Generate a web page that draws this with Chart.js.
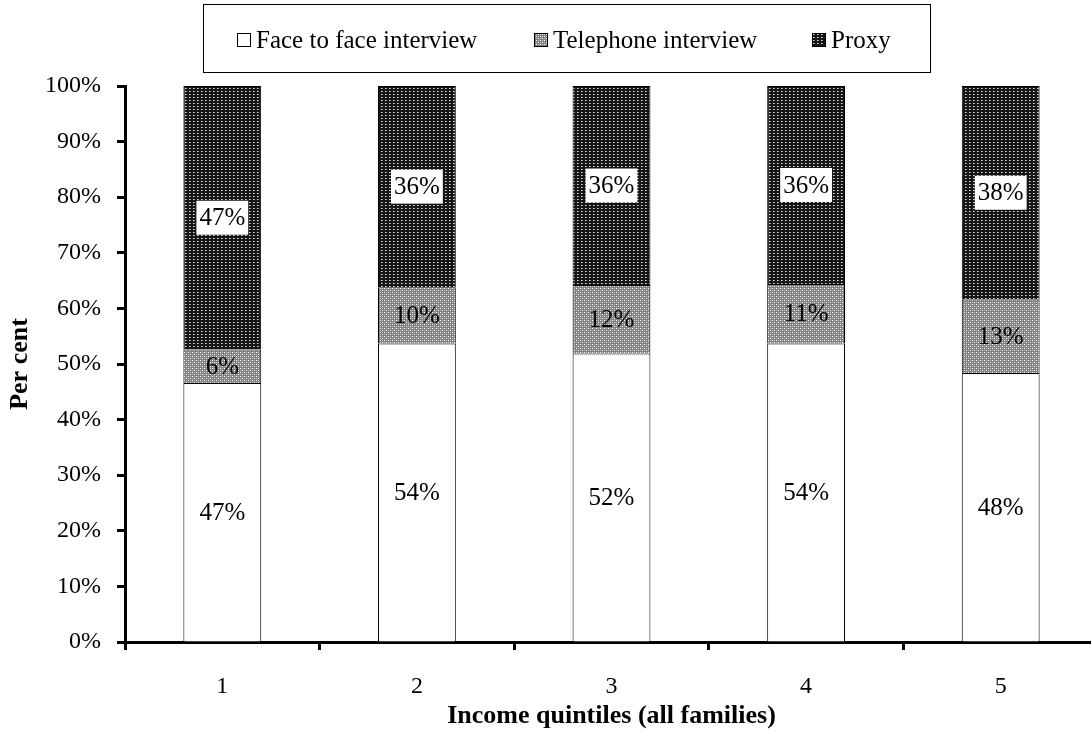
<!DOCTYPE html>
<html><head><meta charset="utf-8">
<script src="https://cdn.jsdelivr.net/npm/chart.js@4"></script>
<style>html,body{margin:0;padding:0;background:#fff;overflow:hidden}</style>
</head><body>
<canvas id="c" width="1100" height="734" style="display:block"></canvas>
<script>
const categories = ['1','2','3','4','5'];
const seriesNames = ['Face to face interview','Telephone interview','Proxy'];
const faceToFace = [46.6, 53.7, 51.9, 53.7, 48.4];
const telephone  = [6.0, 10.1, 12.3, 10.7, 13.2];
const proxy      = [47.4, 36.2, 35.8, 35.6, 38.4];
const xTitle = 'Income quintiles (all families)';
const yTitle = 'Per cent';

const FAMILY = "'Liberation Serif','Times New Roman',serif";
const TICK_FS = 24;
const LABEL_FS = 25;
const LEGEND_FS = 25;
const TITLE_FS = 26;

const canvas = document.getElementById('c');
const ctx = canvas.getContext('2d');

function makePattern(w, h, draw) {
  const c = document.createElement('canvas');
  c.width = w; c.height = h;
  const x = c.getContext('2d');
  draw(x);
  return ctx.createPattern(c, 'repeat');
}
const telPattern = makePattern(4, 4, x => {
  x.fillStyle = '#808080'; x.fillRect(0, 0, 4, 4);
  x.fillStyle = '#ffffff'; x.fillRect(0, 0, 1, 1); x.fillRect(2, 2, 1, 1);
  x.fillStyle = '#bcbcbc'; x.fillRect(2, 0, 1, 1); x.fillRect(0, 2, 1, 1);
});
const proxyPattern = makePattern(4, 3, x => {
  x.fillStyle = '#161616'; x.fillRect(0, 0, 4, 3);
  x.fillStyle = '#e4e4e4'; x.fillRect(1, 1, 1, 1);
  x.fillStyle = '#8a8a8a'; x.fillRect(2, 1, 1, 1);
});
const fills = ['#ffffff', telPattern, proxyPattern];

const labelPlugin = {
  id: 'segLabels',
  afterDatasetsDraw(chart) {
    const c = chart.ctx;
    c.save();
    c.font = LABEL_FS + 'px ' + FAMILY;
    c.textAlign = 'center';
    c.textBaseline = 'middle';
    chart.data.datasets.forEach((ds, di) => {
      const meta = chart.getDatasetMeta(di);
      meta.data.forEach((el, i) => {
        const t = Math.round(ds.data[i]) + '%';
        const y = (el.y + el.base) / 2;
        if (di === 2) {
          const w = c.measureText(t).width + 6;
          c.fillStyle = '#fff';
          c.fillRect(el.x - w / 2, y - 17, w, 34);
        }
        c.fillStyle = '#000';
        c.fillText(t, el.x, y + 1);
      });
    });
    c.restore();
  }
};

const legendPlugin = {
  id: 'boxLegend',
  afterDraw(chart) {
    const c = chart.ctx;
    c.save();
    c.strokeStyle = '#000'; c.lineWidth = 1;
    c.strokeRect(203.5, 4.5, 727, 68);
    c.font = LEGEND_FS + 'px ' + FAMILY;
    c.textBaseline = 'middle';
    c.textAlign = 'left';
    const sq = [237, 534, 812];
    chart.data.datasets.forEach((ds, i) => {
      c.fillStyle = fills[i];
      c.fillRect(sq[i], 33, 14, 14);
      c.strokeStyle = '#000';
      c.strokeRect(sq[i] + 0.5, 33.5, 13, 13);
      c.fillStyle = '#000';
      c.fillText(ds.label, sq[i] + 19, 41);
    });
    c.restore();
  }
};

new Chart(ctx, {
  type: 'bar',
  data: {
    labels: categories,
    datasets: [faceToFace, telephone, proxy].map((d, i) => ({
      label: seriesNames[i],
      data: d,
      backgroundColor: fills[i],
      borderColor: '#000',
      borderWidth: 1,
      barPercentage: 0.4,
      categoryPercentage: 1.0
    }))
  },
  options: {
    responsive: false,
    animation: false,
    layout: { padding: { top: 86, right: 2, left: 0, bottom: 0 } },
    plugins: { legend: { display: false }, tooltip: { enabled: false } },
    scales: {
      x: {
        stacked: true,
        offset: true,
        grid: { offset: true, drawOnChartArea: false, drawTicks: true, tickLength: 8, tickWidth: 3, color: '#000' },
        border: { display: true, width: 3, color: '#000' },
        ticks: { color: '#000', font: { family: FAMILY, size: TICK_FS }, padding: 22 },
        title: { display: true, text: xTitle, color: '#000', font: { family: FAMILY, size: TITLE_FS, weight: 'bold' }, padding: { top: 0, bottom: 2 } },
        afterFit: s => { s.height = 92; }
      },
      y: {
        stacked: true,
        min: 0, max: 100,
        ticks: { stepSize: 10, color: '#000', font: { family: FAMILY, size: TICK_FS }, padding: 16, callback: v => v + '%' },
        grid: { drawOnChartArea: false, drawTicks: true, tickLength: 8, tickWidth: 3, color: '#000' },
        border: { display: true, width: 3, color: '#000' },
        title: { display: true, text: yTitle, color: '#000', font: { family: FAMILY, size: TITLE_FS, weight: 'bold' }, padding: { top: 5, bottom: 0 } },
        afterFit: s => { s.width = 125; }
      }
    }
  },
  plugins: [labelPlugin, legendPlugin]
});
</script>
</body></html>
